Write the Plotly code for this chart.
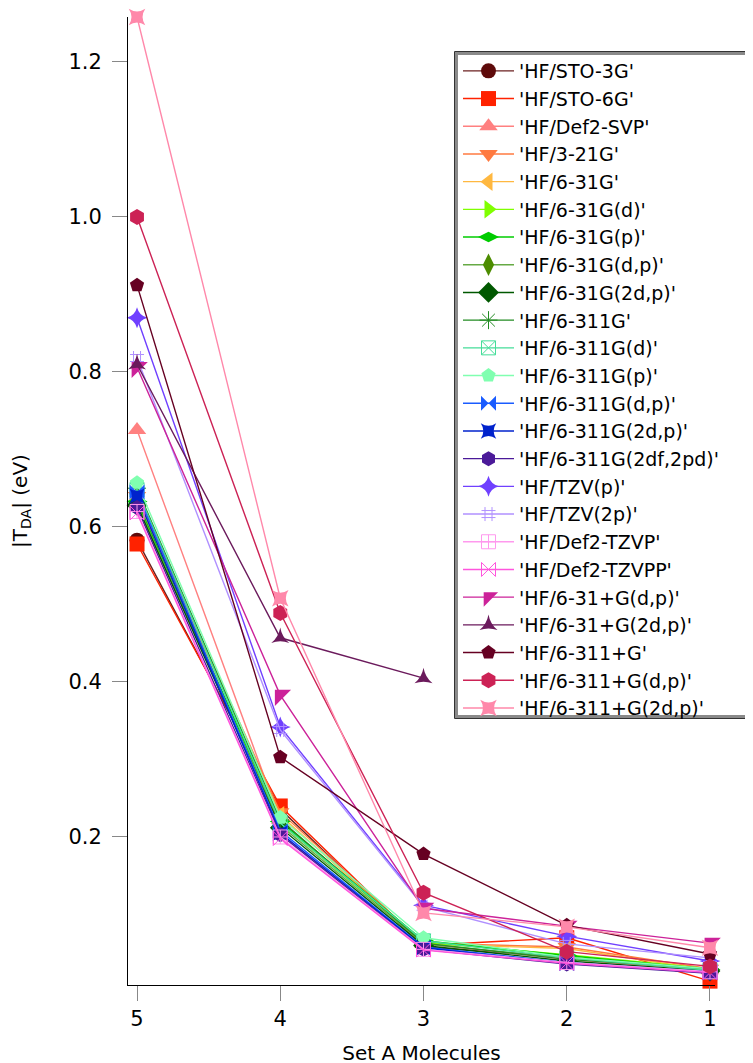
import plotly.graph_objects as go

molecules = [5, 4, 3, 2, 1]

labels = ["'HF/STO-3G'", "'HF/STO-6G'", "'HF/Def2-SVP'", "'HF/3-21G'", "'HF/6-31G'",
          "'HF/6-31G(d)'", "'HF/6-31G(p)'", "'HF/6-31G(d,p)'", "'HF/6-31G(2d,p)'",
          "'HF/6-311G'", "'HF/6-311G(d)'", "'HF/6-311G(p)'", "'HF/6-311G(d,p)'",
          "'HF/6-311G(2d,p)'", "'HF/6-311G(2df,2pd)'", "'HF/TZV(p)'", "'HF/TZV(2p)'",
          "'HF/Def2-TZVP'", "'HF/Def2-TZVPP'", "'HF/6-31+G(d,p)'", "'HF/6-31+G(2d,p)'",
          "'HF/6-311+G'", "'HF/6-311+G(d,p)'", "'HF/6-311+G(2d,p)'"]

sto3g       = [0.583, 0.236, 0.058, 0.045, 0.030]
sto6g       = [0.578, 0.240, 0.060, 0.070, 0.014]
def2svp     = [0.725, 0.222, 0.062, 0.042, 0.028]
g321        = [0.640, 0.232, 0.063, 0.058, 0.030]
g631        = [0.635, 0.228, 0.062, 0.056, 0.028]
g631d       = [0.632, 0.218, 0.064, 0.048, 0.030]
g631p       = [0.633, 0.220, 0.066, 0.047, 0.029]
g631dp      = [0.630, 0.215, 0.062, 0.044, 0.030]
g6312dp     = [0.628, 0.212, 0.060, 0.040, 0.027]
g6311       = [0.650, 0.222, 0.063, 0.042, 0.030]
g6311d      = [0.648, 0.218, 0.066, 0.044, 0.028]
g6311p      = [0.657, 0.225, 0.070, 0.045, 0.030]
g6311dp     = [0.645, 0.208, 0.058, 0.038, 0.026]
g63112dp    = [0.640, 0.205, 0.057, 0.037, 0.025]
g63112df    = [0.625, 0.203, 0.055, 0.036, 0.024]
tzvp        = [0.870, 0.342, 0.112, 0.072, 0.040]
tzv2p       = [0.818, 0.338, 0.110, 0.062, 0.044]
def2tzvp    = [0.620, 0.200, 0.055, 0.038, 0.026]
def2tzvpp   = [0.618, 0.198, 0.054, 0.037, 0.025]
g631pdp     = [0.806, 0.383, 0.108, 0.085, 0.063]
g631p2dp    = [0.810, 0.457, 0.405, None, None]
g6311pg     = [0.912, 0.303, 0.178, 0.086, 0.049]
g6311pdp    = [1.000, 0.489, 0.128, 0.052, 0.033]
g6311p2dp   = [1.258, 0.508, 0.102, 0.084, 0.057]

series = [sto3g, sto6g, def2svp, g321, g631, g631d, g631p, g631dp, g6312dp,
          g6311, g6311d, g6311p, g6311dp, g63112dp, g63112df, tzvp, tzv2p,
          def2tzvp, def2tzvpp, g631pdp, g631p2dp, g6311pg, g6311pdp, g6311p2dp]

styles = [
    ("#5E0A0A", "#6B2020", "circle", 15),
    ("#FF2200", "#FF2200", "square", 15),
    ("#FF8080", "#FF8080", "triangle-up", 16),
    ("#FF7A40", "#FF7A40", "triangle-down", 16),
    ("#FFB840", "#FFB840", "triangle-left", 16),
    ("#80FF00", "#80FF00", "triangle-right", 16),
    ("#00CC00", "#00CC00", "diamond-wide", 15),
    ("#4C8C00", "#66AA44", "diamond-tall", 16),
    ("#005800", "#005800", "diamond", 16),
    ("#228B22", "#228B22", "asterisk-open", 15),
    ("#44DD99", "#44DD99", "square-x-open", 14),
    ("#80FFB0", "#80FFB0", "pentagon", 15),
    ("#1A5CFF", "#1A5CFF", "bowtie", 15),
    ("#0022CC", "#0022CC", "star-square", 14),
    ("#4B1A99", "#4B1A99", "hexagon", 15),
    ("#7040FF", "#7040FF", "star-diamond", 15),
    ("#B090FF", "#B090FF", "hash-open", 14),
    ("#FF99EE", "#FF99EE", "square-cross-open", 14),
    ("#FF55DD", "#FF55DD", "bowtie-open", 14),
    ("#CC2299", "#CC2299", "triangle-nw", 18),
    ("#6B1A5C", "#6B1A5C", "star-triangle-up", 13),
    ("#660022", "#660022", "pentagon", 15),
    ("#CC2255", "#CC2255", "hexagon", 16),
    ("#FF88AA", "#FF88AA", "star-square", 15),
]

fig = go.Figure()
for name, vals, (mcol, lcol, sym, sz) in zip(labels, series, styles):
    is_open = sym.endswith("-open")
    fig.add_trace(go.Scatter(
        x=molecules, y=vals, name=name, mode="lines+markers",
        connectgaps=False, cliponaxis=False,
        line=dict(color=lcol, width=1.4),
        marker=dict(symbol=sym, size=sz, color=mcol,
                    line=dict(color=mcol, width=1 if is_open else 0)),
    ))

FONT = "DejaVu Sans"
W, H = 753, 1063
L, T, R, B = 120, 9, 46, 86
OFF = 8  # page body offset
plot_w = W - L - R
plot_h = H - T - B

def px_x(p):
    return (p - OFF - L) / plot_w

def px_y(p):
    return (H - B - (p - OFF)) / plot_h

# double-border legend frame (outer thin dark line + thick grey inner line)
fig.add_shape(type="rect", xref="paper", yref="paper",
              x0=px_x(454.5), x1=px_x(830), y0=px_y(718.5), y1=px_y(51.5),
              line=dict(color="#333333", width=1), fillcolor="rgba(0,0,0,0)", layer="above")
fig.add_shape(type="rect", xref="paper", yref="paper",
              x0=px_x(456.5), x1=px_x(830), y0=px_y(716.5), y1=px_y(53.5),
              line=dict(color="#8a8a8a", width=3), fillcolor="white", layer="above")

fig.update_layout(
    width=W, height=H,
    margin=dict(l=L, r=R, t=T, b=B, autoexpand=False),
    paper_bgcolor="white", plot_bgcolor="white",
    font=dict(family=FONT, color="black"),
    showlegend=True,
    legend=dict(
        x=px_x(455), y=px_y(49), xanchor="left", yanchor="top",
        bgcolor="rgba(0,0,0,0)", bordercolor="rgba(0,0,0,0)", borderwidth=3,
        font=dict(family=FONT, size=19, color="black"),
        itemwidth=51, tracegroupgap=0,
    ),
    xaxis=dict(
        range=[5.063, 0.965], tickvals=molecules, ticktext=[str(m) for m in molecules],
        showgrid=False, zeroline=False, showline=True, linecolor="black", linewidth=1,
        ticks="outside", ticklen=15, tickcolor="#888888", tickwidth=1,
        tickfont=dict(family=FONT, size=21),
        title=dict(text="Set A Molecules", font=dict(family=FONT, size=20), standoff=15),
    ),
    yaxis=dict(
        range=[0.009, 1.258], dtick=0.2, tick0=0, tickformat=".1f",
        showgrid=False, zeroline=False, showline=True, linecolor="black", linewidth=1,
        ticks="outside", ticklen=15, tickcolor="#888888", tickwidth=1,
        tickfont=dict(family=FONT, size=21), ticklabelstandoff=6,
        title=dict(text="|T<sub>DA</sub>| (eV)", font=dict(family=FONT, size=20), standoff=39),
    ),
)

fig.write_html("out.html")
